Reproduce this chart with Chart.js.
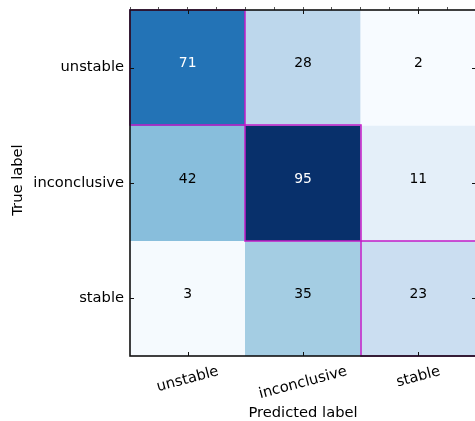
<!DOCTYPE html>
<html>
<head>
<meta charset="utf-8">
<script src="https://cdn.jsdelivr.net/npm/chart.js@4/dist/chart.umd.min.js"></script>
<style>
  html, body { margin: 0; padding: 0; overflow: hidden; background: #fff; }
  #wrap { width: 500px; height: 421px; }
</style>
</head>
<body>
<div id="wrap"><canvas id="cm" width="500" height="421"></canvas></div>
<script>
// Confusion matrix: rows = true class, columns = predicted class
const classLabels = ['unstable', 'inconclusive', 'stable'];
const trueUnstable = [71, 28, 2];
const trueInconclusive = [42, 95, 11];
const trueStable = [3, 35, 23];
const xTitle = 'Predicted label';
const yTitle = 'True label';

const countRows = [trueUnstable, trueInconclusive, trueStable];

// "Blues" sequential colormap
const BLUES = ['#f7fbff', '#deebf7', '#c6dbef', '#9ecae1', '#6baed6', '#4292c6', '#2171b5', '#08519c', '#08306b'];
function hexRgb(h) { return [1, 3, 5].map(i => parseInt(h.slice(i, i + 2), 16)); }
function blues(t) {
  t = Math.max(0, Math.min(1, t));
  const p = t * (BLUES.length - 1);
  const i = Math.min(Math.floor(p), BLUES.length - 2);
  const f = p - i;
  const a = hexRgb(BLUES[i]), b = hexRgb(BLUES[i + 1]);
  return 'rgb(' + a.map((c, k) => Math.round(c + (b[k] - c) * f)).join(',') + ')';
}
const allCounts = countRows.flat();
const vmin = Math.min(...allCounts);
const vmax = Math.max(...allCounts);

const FONT = '"DejaVu Sans", sans-serif';
const LABEL_SIZE = 14.7;
const COUNT_SIZE = 13.9;

// Counts, diagonal outlines, frame, inward ticks and axis labels
const matrixDecor = {
  id: 'matrixDecor',
  afterDraw(chart) {
    const { ctx, chartArea: a, scales: { x, y } } = chart;
    ctx.save();

    // cell counts
    ctx.font = COUNT_SIZE + 'px ' + FONT;
    ctx.textAlign = 'center';
    ctx.textBaseline = 'alphabetic';
    countRows.forEach((row, r) => row.forEach((v, c) => {
      ctx.fillStyle = v > vmax / 2 ? '#ffffff' : '#000000';
      ctx.fillText(String(v), x.getPixelForValue(c), y.getPixelForValue(r + 0.5) - 0.5);
    }));

    // outlines around the diagonal cells
    ctx.strokeStyle = 'rgb(196, 28, 200)';
    ctx.lineWidth = 1.5;
    classLabels.forEach((_, i) => {
      const x0 = Math.round(x.getPixelForValue(i - 0.5));
      const x1 = Math.round(x.getPixelForValue(i + 0.5));
      const y0 = Math.round(y.getPixelForValue(i));
      const y1 = Math.round(y.getPixelForValue(i + 1));
      ctx.strokeRect(x0, y0, x1 - x0, y1 - y0);
    });

    // axes frame
    ctx.strokeStyle = '#111111';
    ctx.lineWidth = 1.6;
    ctx.strokeRect(Math.round(a.left), Math.round(a.top),
                   Math.round(a.right - a.left), Math.round(a.bottom - a.top));

    // inward major ticks on all four sides
    const tl = 4;
    ctx.lineWidth = 1;
    ctx.beginPath();
    classLabels.forEach((_, i) => {
      const px = Math.round(x.getPixelForValue(i)) + 0.5;
      ctx.moveTo(px, a.bottom); ctx.lineTo(px, a.bottom - tl);
      ctx.moveTo(px, a.top); ctx.lineTo(px, a.top + tl);
      const py = Math.round(y.getPixelForValue(i + 0.5)) + 0.5;
      ctx.moveTo(a.left, py); ctx.lineTo(a.left + tl, py);
      ctx.moveTo(a.right, py); ctx.lineTo(a.right - tl, py);
    });
    ctx.stroke();

    // rotated category labels under the matrix
    ctx.font = LABEL_SIZE + 'px ' + FONT;
    ctx.fillStyle = '#000000';
    ctx.textAlign = 'center';
    ctx.textBaseline = 'middle';
    const ang = 15 * Math.PI / 180;
    const lineH = LABEL_SIZE * 1.15;
    classLabels.forEach((lab, c) => {
      const w = ctx.measureText(lab).width;
      const boxH = w * Math.sin(ang) + lineH * Math.cos(ang);
      ctx.save();
      ctx.translate(x.getPixelForValue(c), a.bottom + 7 + boxH / 2);
      ctx.rotate(-ang);
      ctx.fillText(lab, 0, 0);
      ctx.restore();
    });

    // axis titles
    ctx.fillText(xTitle, (a.left + a.right) / 2, 413);
    ctx.save();
    ctx.translate(18, (a.top + a.bottom) / 2 - 3);
    ctx.rotate(-Math.PI / 2);
    ctx.fillText(yTitle, 0, 0);
    ctx.restore();

    ctx.restore();
  }
};

new Chart(document.getElementById('cm'), {
  type: 'bar',
  data: {
    labels: classLabels,
    datasets: countRows.map((row, r) => ({
      label: classLabels[r],
      data: row.map(() => [r, r + 1]),
      backgroundColor: row.map(v => blues((v - vmin) / (vmax - vmin))),
      borderWidth: 0,
      grouped: false,
      barPercentage: 1,
      categoryPercentage: 1
    }))
  },
  options: {
    responsive: false,
    animation: false,
    layout: { padding: { top: 0, right: 24, bottom: 0, left: 0 } },
    plugins: { legend: { display: false }, tooltip: { enabled: false } },
    scales: {
      x: {
        type: 'category',
        offset: true,
        grid: { display: false, drawTicks: false },
        border: { display: false },
        ticks: { display: false },
        afterFit(s) { s.height = 65; s.paddingLeft = 0; s.paddingRight = 0; }
      },
      xTop: {
        type: 'linear',
        position: 'top',
        min: 0,
        max: 11,
        ticks: { display: false, stepSize: 1, maxTicksLimit: 20 },
        grid: { drawOnChartArea: false, drawTicks: true, tickLength: 3, color: '#555', tickColor: '#555' },
        border: { display: false },
        afterFit(s) { s.height = 10; s.paddingLeft = 0; s.paddingRight = 0; }
      },
      y: {
        type: 'linear',
        min: 0,
        max: 3,
        reverse: true,
        afterBuildTicks(s) { s.ticks = classLabels.map((_, i) => ({ value: i + 0.5 })); },
        ticks: {
          callback: v => classLabels[Math.floor(v)],
          font: { family: 'DejaVu Sans', size: LABEL_SIZE },
          color: '#000000',
          padding: 6
        },
        grid: { display: false, drawTicks: false },
        border: { display: false },
        afterFit(s) { s.width = 130; s.paddingTop = 0; s.paddingBottom = 0; }
      }
    }
  },
  plugins: [matrixDecor]
});
</script>
</body>
</html>
